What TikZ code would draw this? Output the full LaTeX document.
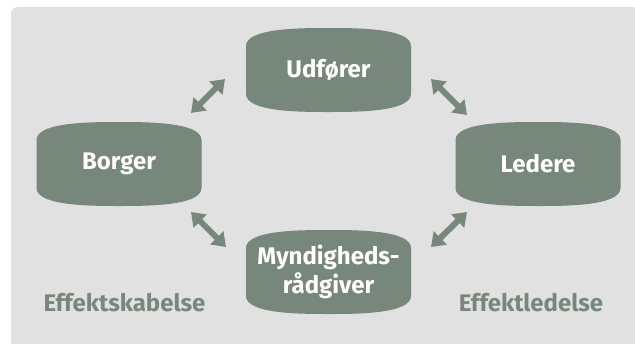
\documentclass[tikz,border=0pt]{standalone}
\usepackage{fontspec}
\setmainfont{Fira Sans}
\usetikzlibrary{arrows.meta}
\definecolor{sage}{HTML}{78877C}
\definecolor{panel}{HTML}{E1E1E1}
\pgfdeclarelayer{bg}
\pgfsetlayers{bg,main}
\newcommand{\bulgebox}[1]{%
	\fill [sage, shift={(#1.center)}] (-82.5,-24) .. controls (-82.5,-42) and (-27.5,-42) .. (0,-42)
		.. controls (27.5,-42) and (82.5,-42) .. (82.5,-24) -- (82.5,24)
		.. controls (82.5,42) and (27.5,42) .. (0,42)
		.. controls (-27.5,42) and (-82.5,42) .. (-82.5,24) -- cycle;}
\begin{document}
\begin{tikzpicture}[x=1pt,y=-1pt,
	role/.style={text=white, font=\fontsize{24}{29}\selectfont\bfseries, align=center},
	effect/.style={text=sage, font=\fontsize{24}{29}\selectfont\bfseries},
	link/.style={sage, line width=6pt, {Triangle[length=13pt,width=18pt]}-{Triangle[length=13pt,width=18pt]}}]
		\tikzstyle{every node}+=[inner sep=0pt]
		\useasboundingbox (0,0) rectangle (635,343);
		\node [role] (udforer) at (328.5,70) {Udfører};
		\node [role] (borger) at (119,164) {Borger};
		\node [role] (ledere) at (538,164) {Ledere};
		\node [role] (myndighed) at (328.5,272) {Myndigheds-\\rådgiver};
		\node [effect] (skabelse) at (124.5,303) {Effektskabelse};
		\node [effect] (ledelse) at (531,303) {Effektledelse};
		\coordinate (a1) at (191,113);
		\coordinate (b1) at (225,79);
		\coordinate (a2) at (431,79);
		\coordinate (b2) at (467,115);
		\coordinate (a3) at (191,212);
		\coordinate (b3) at (226,247);
		\coordinate (a4) at (431,247);
		\coordinate (b4) at (467,212);
		\draw [link] (a1) -- (b1);
		\draw [link] (a2) -- (b2);
		\draw [link] (a3) -- (b3);
		\draw [link] (a4) -- (b4);
		\begin{pgfonlayer}{bg}
		\fill [white] (0,0) rectangle (635,343);
		\fill [panel] (11,7) [rounded corners=7pt] -- (640,7) [sharp corners] -- (640,350) -- (11,350) [rounded corners=7pt] -- cycle;
		\bulgebox{udforer}
		\bulgebox{borger}
		\bulgebox{ledere}
		\bulgebox{myndighed}
		\end{pgfonlayer}
	\end{tikzpicture}
\end{document}
